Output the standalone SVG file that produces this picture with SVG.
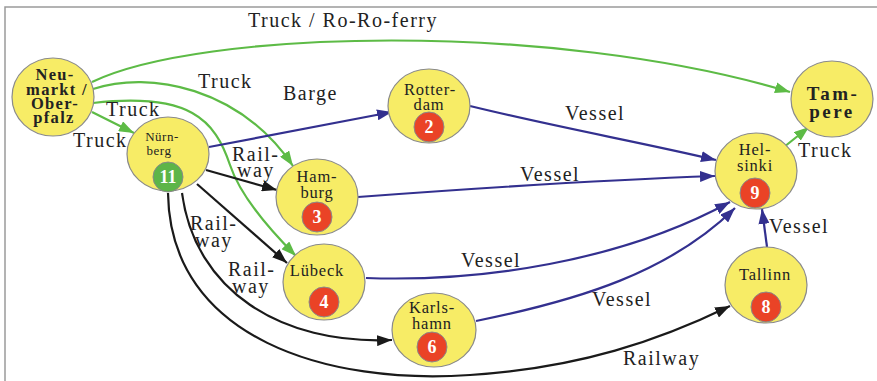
<svg xmlns="http://www.w3.org/2000/svg" width="877" height="381" viewBox="0 0 877 381">
<defs>
<style>
.node{fill:#F7EC66;stroke:#8a8a8a;stroke-width:1.2}
.red{fill:#EA4326;stroke:#8a8a8a;stroke-width:1}
.grn{fill:#5DB548;stroke:#8a8a8a;stroke-width:1}
.nt{font-family:"Liberation Serif",serif;font-size:16.5px;letter-spacing:0.8px;fill:#222;text-anchor:middle}
.nb{font-family:"Liberation Serif",serif;font-size:16.5px;letter-spacing:1.3px;font-weight:bold;fill:#222;text-anchor:middle}
.num{font-family:"Liberation Serif",serif;font-size:18px;font-weight:bold;fill:#fff;text-anchor:middle}
.lbl{font-family:"Liberation Serif",serif;font-size:20px;letter-spacing:1.5px;fill:#222}
.g{fill:none;stroke:#5DBB46;stroke-width:2.2}
.b{fill:none;stroke:#33308F;stroke-width:2.2}
.k{fill:none;stroke:#1a1a1a;stroke-width:2.2}
</style>
<marker id="ag" viewBox="0 0 15 11" refX="15" refY="5.5" markerWidth="15" markerHeight="11" markerUnits="userSpaceOnUse" orient="auto"><path d="M0,0 L15,5.5 L0,11 z" fill="#5DBB46"/></marker>
<marker id="ab" viewBox="0 0 15 11" refX="15" refY="5.5" markerWidth="15" markerHeight="11" markerUnits="userSpaceOnUse" orient="auto"><path d="M0,0 L15,5.5 L0,11 z" fill="#33308F"/></marker>
<marker id="ak" viewBox="0 0 15 11" refX="15" refY="5.5" markerWidth="15" markerHeight="11" markerUnits="userSpaceOnUse" orient="auto"><path d="M0,0 L15,5.5 L0,11 z" fill="#1a1a1a"/></marker>
</defs>
<rect width="877" height="381" fill="#fff"/>
<path d="M5,381 L5,7 L877,7" fill="none" stroke="#9a9a9a" stroke-width="1.5"/>

<g id="connectors">
<path class="g" marker-end="url(#ag)" d="M92,82 C200,30 550,20 790,92"/>
<path class="g" marker-end="url(#ag)" d="M93,89 C150,70 240,88 293,166"/>
<path class="g" marker-end="url(#ag)" d="M93,103 C190,92 215,120 230,165 C240,195 270,230 296,256"/>
<path class="g" marker-end="url(#ag)" d="M92,112 L134,133"/>
<path class="g" marker-end="url(#ag)" d="M784,147 L809,127"/>
<path class="b" marker-end="url(#ab)" d="M209,147 L392,112"/>
<path class="b" marker-end="url(#ab)" d="M470,106 C560,128 640,142 716,160"/>
<path class="b" marker-end="url(#ab)" d="M358,197 C480,188 600,180 715,176"/>
<path class="b" marker-end="url(#ab)" d="M366,278 C480,282 620,262 730,202"/>
<path class="b" marker-end="url(#ab)" d="M476,321 C580,300 670,272 735,208"/>
<path class="b" marker-end="url(#ab)" d="M767,247 L762,209"/>
<path class="k" marker-end="url(#ak)" d="M206,170 L277,190"/>
<path class="k" marker-end="url(#ak)" d="M197,184 L287,263"/>
<path class="k" marker-end="url(#ak)" d="M182,193 C195,290 280,345 392,340"/>
<path class="k" marker-end="url(#ak)" d="M168,193 C170,340 330,385 470,375 C580,368 660,340 730,306"/>
</g>

<g id="labels">
<text class="lbl" x="248" y="27">Truck / Ro-Ro-ferry</text>
<text class="lbl" x="198" y="88">Truck</text>
<text class="lbl" x="283" y="100">Barge</text>
<text class="lbl" x="106" y="116">Truck</text>
<text class="lbl" x="73" y="147">Truck</text>
<text class="lbl" x="232" y="161">Rail-</text>
<text class="lbl" x="237" y="177">way</text>
<text class="lbl" x="190" y="230">Rail-</text>
<text class="lbl" x="195" y="247">way</text>
<text class="lbl" x="228" y="276">Rail-</text>
<text class="lbl" x="232" y="293">way</text>
<text class="lbl" x="623" y="365">Railway</text>
<text class="lbl" x="565" y="120">Vessel</text>
<text class="lbl" x="520" y="181">Vessel</text>
<text class="lbl" x="461" y="267">Vessel</text>
<text class="lbl" x="592" y="306">Vessel</text>
<text class="lbl" x="769" y="233">Vessel</text>
<text class="lbl" x="798" y="157">Truck</text>
</g>

<g id="neumarkt">
<ellipse class="node" cx="53" cy="97" rx="41" ry="39"/>
<text class="nb" x="55" y="80">Neu-</text>
<text class="nb" x="57" y="95">markt /</text>
<text class="nb" x="55" y="109">Ober-</text>
<text class="nb" x="54" y="123">pfalz</text>
</g>
<g id="nuernberg">
<ellipse class="node" cx="168" cy="154" rx="41" ry="37"/>
<text class="nt" x="162" y="141" style="font-size:13px;letter-spacing:0.5px">Nürn-</text>
<text class="nt" x="159" y="155" style="font-size:13px;letter-spacing:0.5px">berg</text>
<circle class="grn" cx="168" cy="177" r="15"/>
<text class="num" x="168" y="183">11</text>
</g>
<g id="rotterdam">
<ellipse class="node" cx="429" cy="106" rx="41" ry="37"/>
<text class="nt" x="430" y="95">Rotter-</text>
<text class="nt" x="429" y="110">dam</text>
<circle class="red" cx="429" cy="127" r="15"/>
<text class="num" x="429" y="133">2</text>
</g>
<g id="hamburg">
<ellipse class="node" cx="317" cy="197" rx="41" ry="38"/>
<text class="nt" x="317" y="182">Ham-</text>
<text class="nt" x="317" y="198">burg</text>
<circle class="red" cx="317" cy="217" r="15"/>
<text class="num" x="317" y="223">3</text>
</g>
<g id="luebeck">
<ellipse class="node" cx="324" cy="282" rx="41" ry="38"/>
<text class="nt" x="317" y="276">Lübeck</text>
<circle class="red" cx="324" cy="302" r="15"/>
<text class="num" x="324" y="308">4</text>
</g>
<g id="karlshamn">
<ellipse class="node" cx="434" cy="330" rx="42" ry="37"/>
<text class="nt" x="432" y="313">Karls-</text>
<text class="nt" x="432" y="329">hamn</text>
<circle class="red" cx="432" cy="347" r="15"/>
<text class="num" x="432" y="353">6</text>
</g>
<g id="helsinki">
<ellipse class="node" cx="756" cy="171" rx="41" ry="38"/>
<text class="nt" x="755" y="155">Hel-</text>
<text class="nt" x="755" y="171">sinki</text>
<circle class="red" cx="755" cy="193" r="15"/>
<text class="num" x="755" y="199">9</text>
</g>
<g id="tampere">
<ellipse class="node" cx="832" cy="99" rx="41" ry="38"/>
<text class="nb" x="833" y="100" style="font-size:19px;letter-spacing:2.5px">Tam-</text>
<text class="nb" x="832" y="118" style="font-size:19px;letter-spacing:2.5px">pere</text>
</g>
<g id="tallinn">
<ellipse class="node" cx="766" cy="285" rx="41" ry="38"/>
<text class="nt" x="765" y="280">Tallinn</text>
<circle class="red" cx="766" cy="307" r="15"/>
<text class="num" x="766" y="313">8</text>
</g>
</svg>
